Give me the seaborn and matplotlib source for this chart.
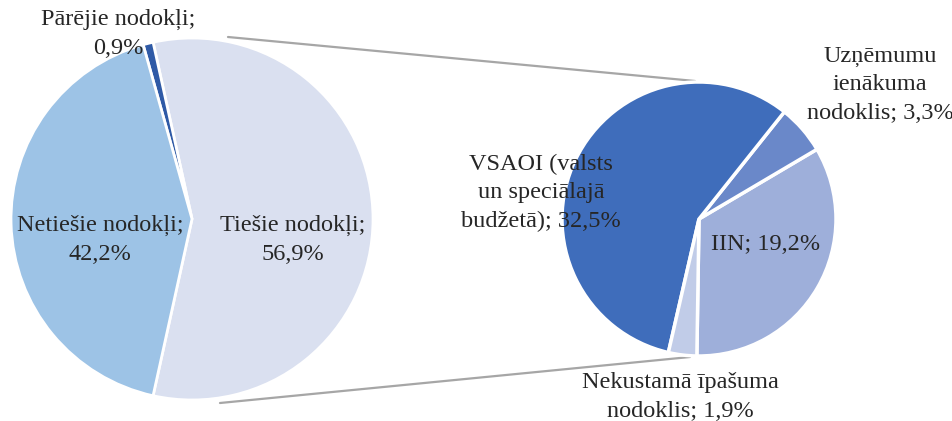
import matplotlib
matplotlib.use('Agg')
import matplotlib.pyplot as plt
import seaborn as sns

# left pie: all taxes
main_labels = ['Tiešie nodokļi', 'Pārējie nodokļi', 'Netiešie nodokļi']
main_values = [56.9, 0.9, 42.2]
main_colors = ['#DAE0F0', '#2F5AA6', '#9DC3E6']

# right pie: breakdown of direct taxes
sub_labels = ['IIN', 'Uzņēmumu ienākuma nodoklis', 'VSAOI (valsts un speciālajā budžetā)',
              'Nekustamā īpašuma nodoklis']
sub_values = [19.2, 3.3, 32.5, 1.9]
sub_colors = ['#9EAFDA', '#6A88C9', '#3F6DBB', '#C1CCE8']

sns.set_theme(style='white')
plt.rcParams['font.family'] = ['Liberation Serif', 'DejaVu Serif']

W, H = 953, 421
fig = plt.figure(figsize=(W / 100, H / 100), dpi=100)
ax = fig.add_axes([0, 0, 1, 1])
ax.set_aspect('equal')


def py(y):
    # pixel row -> data y
    return H - y


def fmt(v):
    return f'{v:.1f}'.replace('.', ',') + '%'


# left pie
c1, r1 = (192, py(219)), 181
tie_angle = main_values[0] / sum(main_values) * 360
ax.pie(main_values, colors=main_colors, startangle=-tie_angle / 2,
       center=c1, radius=r1, explode=[0.028, 0, 0],
       wedgeprops=dict(edgecolor='white', linewidth=2), frame=True)

# right pie
c2, r2 = (699, py(219)), 137
ax.pie(sub_values, colors=sub_colors, startangle=-90.9,
       center=c2, radius=r2,
       wedgeprops=dict(edgecolor='white', linewidth=2.5), frame=True)
ax.set_xlim(0, W)
ax.set_ylim(0, H)
ax.axis('off')

# connector lines
ax.plot([228, 695], [py(37), py(81)], color='#A6A6A6', lw=1.6, zorder=0)
ax.plot([220, 690], [py(403), py(357)], color='#A6A6A6', lw=1.6, zorder=0)

fs = 17.5
ls = 1.45
ax.text(118, py(34), f'{main_labels[1]};\n{fmt(main_values[1])}', ha='center', va='center',
        fontsize=fs, linespacing=ls)
ax.text(100, py(240), f'{main_labels[2]};\n{fmt(main_values[2])}', ha='center', va='center',
        fontsize=fs, linespacing=ls)
ax.text(293, py(240), f'{main_labels[0]};\n{fmt(main_values[0])}', ha='center', va='center',
        fontsize=fs, linespacing=ls)

ax.text(541, py(193), f'VSAOI (valsts\nun speciālajā\nbudžetā); {fmt(sub_values[2])}',
        ha='center', va='center', fontsize=fs, linespacing=ls)
ax.text(880, py(85), f'Uzņēmumu\nienākuma\nnodoklis; {fmt(sub_values[1])}',
        ha='center', va='center', fontsize=fs, linespacing=ls)
ax.text(766, py(245), f'{sub_labels[0]}; {fmt(sub_values[0])}', ha='center', va='center',
        fontsize=fs, linespacing=ls)
ax.text(680, py(397), f'Nekustamā īpašuma\nnodoklis; {fmt(sub_values[3])}',
        ha='center', va='center', fontsize=fs, linespacing=ls)

fig.savefig('out.png', dpi=100)
